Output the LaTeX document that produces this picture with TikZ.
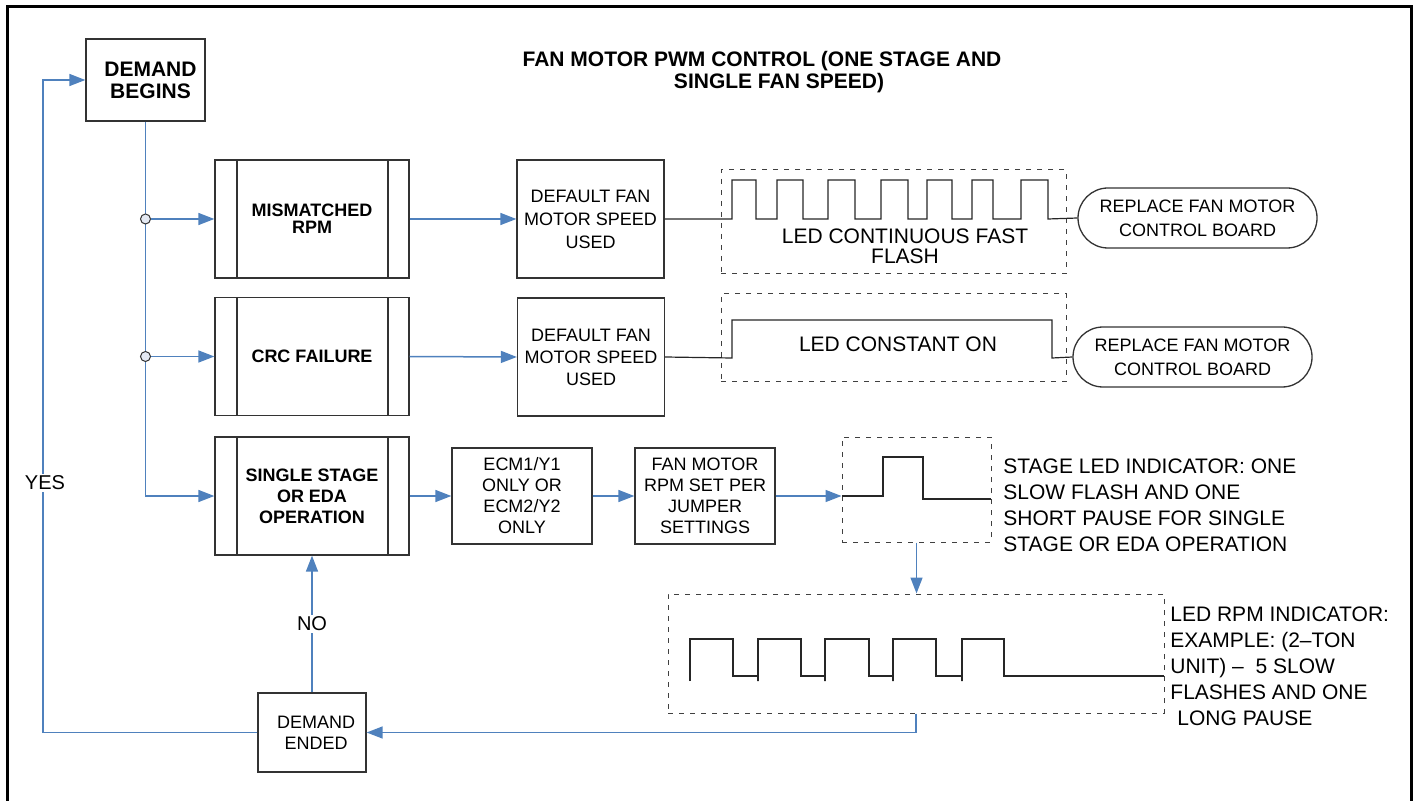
\documentclass[tikz,border=0pt]{standalone}
\usepackage{fontspec}
\setmainfont{Liberation Sans}
\usetikzlibrary{arrows.meta}
\definecolor{flowblue}{RGB}{79,129,189}
\definecolor{dotfill}{RGB}{228,233,243}
\tikzset{
  box/.style={draw=black!80, line width=0.65pt, align=center, inner sep=1pt, font=\fontsize{9}{10.5}\selectfont},
  procbox/.style={box, minimum width=97pt, minimum height=59pt, font=\bfseries\fontsize{9}{10.5}\selectfont,
    path picture={\draw[black!80, line width=0.65pt]
      ([xshift=11pt]path picture bounding box.north west) -- ([xshift=11pt]path picture bounding box.south west)
      ([xshift=-10.5pt]path picture bounding box.north east) -- ([xshift=-10.5pt]path picture bounding box.south east);}},
  endbox/.style={box, rounded corners=15pt, minimum width=119.5pt, minimum height=30pt, font=\fontsize{9}{12}\selectfont},
  ledbox/.style={draw=black!75, line width=0.5pt, dash pattern=on 2.5pt off 3pt, inner sep=0},
  sidetxt/.style={align=left, inner sep=0, font=\fontsize{10.5}{13}\selectfont},
  flow/.style={draw=flowblue, line width=0.75pt, -{Triangle[length=8pt,width=6pt]}},
  wave/.style={draw=black!85, line width=0.6pt},
  junction/.style={circle, draw=black!80, fill=dotfill, line width=0.5pt, inner sep=0, minimum size=5pt},
}
\begin{document}
\begin{tikzpicture}[x=0.5pt, y=-0.5pt]
\useasboundingbox (0,0) rectangle (1416,801);
\draw[line width=1.5pt] (7,830) -- (7,7) -- (1411,7) -- (1411,830);

% title
\node[align=center, font=\bfseries\fontsize{10.5}{9.5}\selectfont] (title) at (762,72)
  {FAN MOTOR PWM CONTROL (ONE STAGE AND\\\hspace*{17pt}SINGLE FAN SPEED)};

% boxes
\node[box, minimum width=59.5pt, minimum height=41pt, font=\bfseries\fontsize{10.5}{11}\selectfont] (begins) at (145.5,80) {\hspace*{5pt}DEMAND\\\hspace*{5pt}BEGINS};
\node[procbox, font=\bfseries\fontsize{9}{8.5}\selectfont] (mismatch) at (312,219) {MISMATCHED\\RPM};
\node[procbox] (crc) at (312,356.5) {CRC FAILURE};
\node[procbox] (single) at (312,496) {SINGLE STAGE\\OR EDA\\OPERATION};
\node[box, minimum width=73.5pt, minimum height=59pt, font=\fontsize{9}{11.5}\selectfont] (def1) at (590.5,219) {DEFAULT FAN\\MOTOR SPEED\\USED};
\node[box, minimum width=73.5pt, minimum height=59pt, font=\fontsize{9}{11}\selectfont] (def2) at (591,357) {DEFAULT FAN\\MOTOR SPEED\\USED};
\node[box, minimum width=70pt, minimum height=48pt] (ecm) at (522,496) {ECM1/Y1\\ONLY OR\\ECM2/Y2\\ONLY};
\node[box, minimum width=70pt, minimum height=48pt] (rpmset) at (705,496) {FAN MOTOR\\RPM SET PER\\JUMPER\\SETTINGS};
\node[box, minimum width=54pt, minimum height=39.5pt] (ended) at (312,732.5) {\hspace*{4pt}DEMAND\\\hspace*{4pt}ENDED};
\node[endbox] (rep1) at (1197.5,218) {REPLACE FAN MOTOR\\CONTROL BOARD};
\node[endbox] (rep2) at (1192.5,357) {REPLACE FAN MOTOR\\CONTROL BOARD};

% led indicators
\node[ledbox, minimum width=172.5pt, minimum height=52pt] (led1) at (893.5,222) {};
\node[ledbox, minimum width=172.5pt, minimum height=44pt] (led2) at (893.5,338) {};
\node[ledbox, minimum width=74.5pt, minimum height=52.5pt] (led3) at (916.5,489.5) {};
\node[ledbox, minimum width=248pt, minimum height=59.5pt] (led4) at (916,653.5) {};
\node[align=center, font=\fontsize{10.5}{10}\selectfont] (fasttxt) at (905,246) {LED CONTINUOUS FAST\\FLASH};
\node[font=\fontsize{10.5}{12}\selectfont] (ontxt) at (898,344) {LED CONSTANT ON};
\node[sidetxt, anchor=west] (stagetxt) at (1003,505)
  {STAGE LED INDICATOR: ONE\\SLOW FLASH AND ONE\\SHORT PAUSE FOR SINGLE\\STAGE OR EDA OPERATION};
\node[sidetxt, anchor=west] (rpmtxt) at (1170,666)
  {LED RPM INDICATOR:\\EXAMPLE: (2--TON\\UNIT) --\ \ 5 SLOW\\FLASHES AND ONE\\\hspace*{3.5pt}LONG PAUSE};

% waveforms
\draw[wave] (def1.east) -- (732,219)
  \foreach \a/\b in {732/756,777/803,828/855,881/908,927/952,972/993,1021/1048}
    { -- (\a,219) -- (\a,180) -- (\b,180) -- (\b,219) } -- (rep1.west);
\draw[wave] (def2.east) -- (732,358) -- (732,320) -- (1052,320) -- (1052,358) -- (rep2.west);
\draw[wave] (842,496) -- (883,496) -- (883,457) -- (923,457) -- (923,499) -- (991,499);
\draw[wave] (690,681) -- (690,639) -- (733,639) -- (733,676)
  \foreach \a/\b in {758/801,825/869,893/936,962/1004}
    { -- (\a,676) -- (\a,681) -- (\a,639) -- (\b,639) -- (\b,676) } -- (1164,676);

% connectors
\draw[flow] (begins.south) |- (single.west);
\node[junction] (j1) at (begins.south |- mismatch.west) {};
\node[junction] (j2) at (begins.south |- crc.west) {};
\draw[flow] (j1) -- (mismatch.west);
\draw[flow] (j2) -- (crc.west);
\draw[flow] (mismatch.east) -- (def1.west);
\draw[flow] (crc.east) -- (def2.west);
\draw[flow] (single.east) -- (ecm.west);
\draw[flow] (ecm.east) -- (rpmset.west);
\draw[flow] (rpmset.east) -- (rpmset.east -| led3.west);
\draw[flow] (led3.south) -- (led3.south |- led4.north);
\draw[flow] (led4.south) |- (ended.east);
\draw[flow] (ended.north) -- (single.south) node[midway, fill=white, inner sep=1pt, font=\fontsize{10}{12}\selectfont] (no) {NO};
\coordinate (loopcorner) at (43,80);
\draw[flow] (ended.west) -| (loopcorner) -- (begins.west);
\node[fill=white, inner sep=1pt, font=\fontsize{10}{12}\selectfont] (yes) at (45,483) {YES};
\end{tikzpicture}
\end{document}
